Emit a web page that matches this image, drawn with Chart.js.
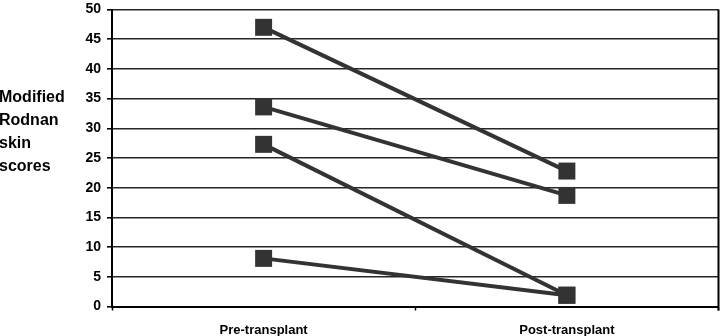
<!DOCTYPE html>
<html lang="en">
<head>
    <meta charset="UTF-8">
    <title>Modified Rodnan skin scores</title>
    <script src="https://cdn.jsdelivr.net/npm/chart.js"></script>
    <style>
        html, body { margin: 0; padding: 0; background: #fff; overflow: hidden; }
        #wrap { width: 720px; height: 336px; position: relative; }
    </style>
</head>
<body>
    <div id="wrap"><canvas id="chart"></canvas></div>
    <script>
        // data
        const timepoints = ['Pre-transplant', 'Post-transplant'];
        const patient1 = [47.0, 22.8];
        const patient2 = [33.6, 18.7];
        const patient3 = [27.3, 1.9];
        const patient4 = [8.1, 1.9];
        const yTitleLines = ['Modified', 'Rodnan', 'skin', 'scores'];

        const ink = '#333333';
        const fontFamily = '"Liberation Sans", Arial, Helvetica, sans-serif';

        function patientSet(values) {
            return {
                data: values,
                borderColor: ink,
                backgroundColor: ink,
                borderWidth: 4,
                pointStyle: 'rect',
                pointRadius: 12,
                pointHoverRadius: 12,
                pointBorderWidth: 0,
                tension: 0,
                clip: false
            };
        }

        // horizontal, multi-line y axis title at far left + right frame edge
        const decorations = {
            id: 'decorations',
            afterDraw(chart) {
                const ctx = chart.ctx;
                const area = chart.chartArea;
                ctx.save();
                ctx.fillStyle = '#000';
                ctx.font = 'bold 16px ' + fontFamily;
                ctx.textAlign = 'left';
                ctx.textBaseline = 'alphabetic';
                yTitleLines.forEach((t, i) => ctx.fillText(t, -1, 102 + i * 23));
                ctx.strokeStyle = '#000';
                ctx.lineWidth = 2;
                ctx.beginPath();
                ctx.moveTo(area.right, area.top);
                ctx.lineTo(area.right, area.bottom + 4);
                ctx.stroke();
                ctx.restore();
            }
        };

        new Chart(document.getElementById('chart'), {
            type: 'line',
            data: {
                labels: timepoints,
                datasets: [patientSet(patient1), patientSet(patient2), patientSet(patient3), patientSet(patient4)]
            },
            options: {
                responsive: true,
                maintainAspectRatio: false,
                animation: false,
                events: [],
                layout: { autoPadding: false, padding: { top: 9.5, right: 1.5, left: 0, bottom: 0 } },
                plugins: { legend: { display: false }, tooltip: { enabled: false } },
                scales: {
                    x: {
                        offset: true,
                        grid: {
                            offset: true,
                            drawOnChartArea: false,
                            color: '#000',
                            tickLength: 4,
                            tickWidth: 1.5
                        },
                        border: { color: '#000', width: 2 },
                        ticks: {
                            color: '#000',
                            padding: 12,
                            maxRotation: 0,
                            font: { family: fontFamily, size: 13, weight: 'bold' }
                        },
                        afterFit(scale) { scale.height = 29.5; }
                    },
                    y: {
                        min: 0,
                        max: 50,
                        ticks: {
                            stepSize: 5,
                            color: '#000',
                            padding: 6,
                            font: { family: fontFamily, size: 14, weight: 'bold', lineHeight: 0.5 }
                        },
                        grid: {
                            color: '#262626',
                            lineWidth: 1.6,
                            tickLength: 5,
                            tickColor: '#000'
                        },
                        border: { color: '#000', width: 2 },
                        afterFit(scale) { scale.width = 112; }
                    }
                }
            },
            plugins: [decorations]
        });
    </script>
</body>
</html>
